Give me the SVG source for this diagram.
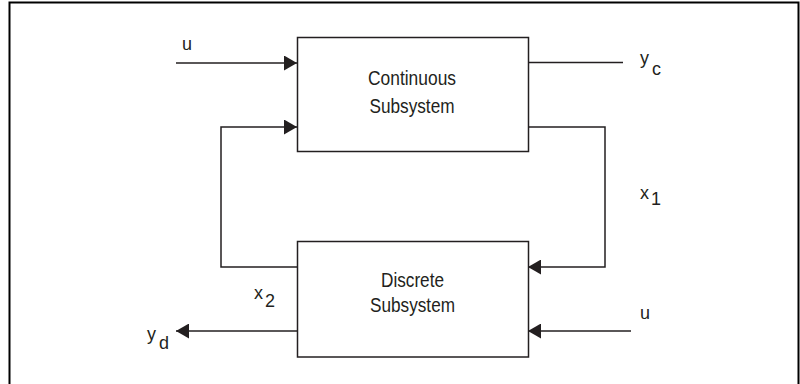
<svg xmlns="http://www.w3.org/2000/svg" width="800" height="384" viewBox="0 0 800 384">
<style>
.ln{fill:none;stroke:#231f20;stroke-width:1.5}
.box{fill:#fff;stroke:#231f20;stroke-width:1.5}
.t{font-family:"Liberation Sans",Arial,sans-serif;font-size:19.5px;fill:#231f20;text-anchor:middle}
.l{font-family:"Liberation Sans",Arial,sans-serif;font-size:18px;fill:#231f20}
</style>
<defs>
<marker id="ah" viewBox="0 0 13 15" refX="13" refY="7.5" markerWidth="13" markerHeight="15" markerUnits="userSpaceOnUse" orient="auto">
<path d="M0,0 L13,7.5 L0,15 Z" fill="#231f20"/>
</marker>
</defs>
<rect x="0" y="0" width="800" height="384" fill="#fff"/>
<path d="M9.5,390 V2.5 H798.5 V390" fill="none" stroke="#000" stroke-width="2"/>
<g id="connectors">
<path class="ln" d="M176,63 H297" marker-end="url(#ah)"/>
<path class="ln" d="M297,267 H221 V127 H297" marker-end="url(#ah)"/>
<path class="ln" d="M528,62.5 H623"/>
<path class="ln" d="M528,127 H605 V267 H528" marker-end="url(#ah)"/>
<path class="ln" d="M631,331 H528" marker-end="url(#ah)"/>
<path class="ln" d="M297,331 H176" marker-end="url(#ah)"/>
</g>
<g id="continuous">
<rect class="box" x="297.5" y="37.5" width="231" height="114"/>
<text class="t" x="412" y="85" textLength="88" lengthAdjust="spacingAndGlyphs">Continuous</text>
<text class="t" x="412" y="113" textLength="85" lengthAdjust="spacingAndGlyphs">Subsystem</text>
</g>
<g id="discrete">
<rect class="box" x="297.5" y="241.5" width="231" height="115.5"/>
<text class="t" x="412.5" y="287" textLength="63" lengthAdjust="spacingAndGlyphs">Discrete</text>
<text class="t" x="412.5" y="312" textLength="85" lengthAdjust="spacingAndGlyphs">Subsystem</text>
</g>
<g id="labels">
<text class="l" x="182" y="50">u</text>
<text class="l" x="640" y="64">y</text>
<text class="l" x="652" y="75">c</text>
<text class="l" x="640" y="199">x</text>
<text class="l" x="651" y="205">1</text>
<text class="l" x="254" y="299">x</text>
<text class="l" x="265" y="307">2</text>
<text class="l" x="147" y="340">y</text>
<text class="l" x="159" y="349">d</text>
<text class="l" x="640" y="319">u</text>
</g>
</svg>
